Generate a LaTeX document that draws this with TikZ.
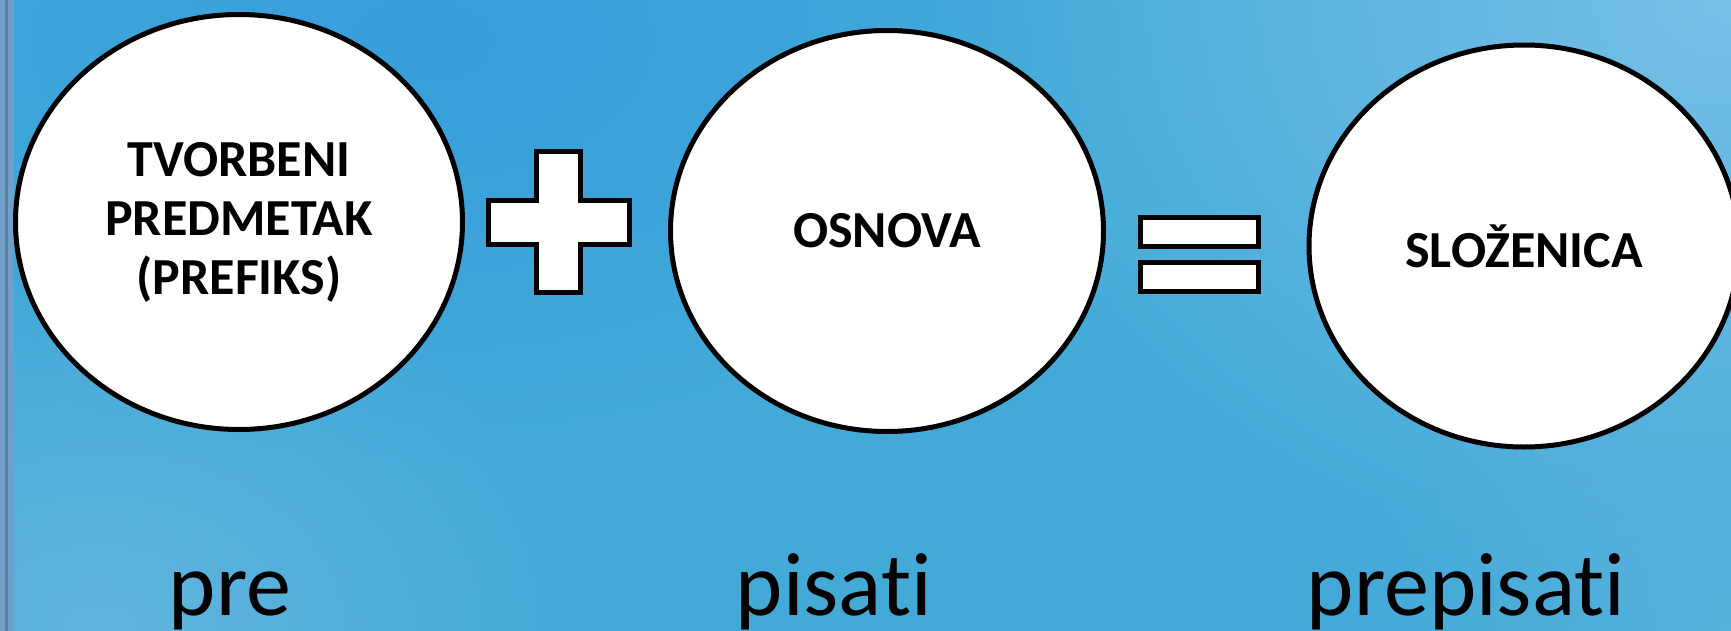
\documentclass[tikz,border=0pt]{standalone}
\usepackage{fontspec}
\setmainfont{Carlito}[Ligatures={NoCommon,NoContextual}]
\usetikzlibrary{shapes.geometric,fadings}
\tikzfading[name=glowfade, inner color=transparent!0, outer color=transparent!100]
\definecolor{bgblue}{RGB}{67,170,216}
\definecolor{bgdeep}{RGB}{52,156,222}
\definecolor{bglight}{RGB}{120,192,232}
\definecolor{bgsoft}{RGB}{100,182,224}
\definecolor{stripcol}{RGB}{112,160,198}
\definecolor{stripdark}{RGB}{86,128,168}
\begin{document}
\begin{tikzpicture}[x=1pt,y=-1pt,
  oval/.style={ellipse, draw=black, line width=5pt, fill=white, inner sep=0pt, align=center,
    font=\fontsize{52}{59}\selectfont\bfseries},
  sign/.style={draw=black, line width=5pt, fill=white, line join=miter},
  word/.style={anchor=base, text=black, font=\fontsize{90}{100}\selectfont},
  glow/.style={path fading=glowfade}]
\useasboundingbox (0,0) rectangle (1731,631);
\clip (0,0) rectangle (1731,631);
% background
\fill[bgblue] (0,0) rectangle (1731,631);
\fill[bgdeep, glow, opacity=0.8] (420,40) ellipse[x radius=700pt, y radius=420pt];
\fill[bgsoft, glow, opacity=0.9] (100,631) ellipse[x radius=520pt, y radius=380pt];
\fill[bglight, glow] (1731,0) ellipse[x radius=800pt, y radius=620pt];
\fill[bgsoft, glow, opacity=0.6] (1731,631) ellipse[x radius=400pt, y radius=300pt];
\fill[stripcol] (0,0) rectangle (14,631);
\fill[stripdark] (5,0) rectangle (7.5,631);
% ovals
\node[oval, minimum width=447pt, minimum height=415pt] (pref) at (239,222) {TVORBENI\\PREDMETAK\\(PREFIKS)};
\node[oval, minimum width=433pt, minimum height=401pt] (osn) at (887,231) {OSNOVA};
\node[oval, minimum width=430pt, minimum height=402pt] (slo) at (1524,246) {SLOŽENICA};
% plus sign
\draw[sign] (536.5,151.5) -- (580.5,151.5) -- (580.5,200.5) -- (629.5,200.5) -- (629.5,244.5)
  -- (580.5,244.5) -- (580.5,292.5) -- (536.5,292.5) -- (536.5,244.5) -- (488.5,244.5)
  -- (488.5,200.5) -- (536.5,200.5) -- cycle;
% equals sign
\draw[sign] (1140.5,217.5) rectangle (1258.5,246.5);
\draw[sign] (1140.5,262.5) rectangle (1258.5,291.5);
% words
\node[word] (w1) at (230,615) {pre};
\node[word] (w2) at (834,615) {pisati};
\node[word] (w3) at (1466,615) {prepisati};
\end{tikzpicture}
\end{document}
